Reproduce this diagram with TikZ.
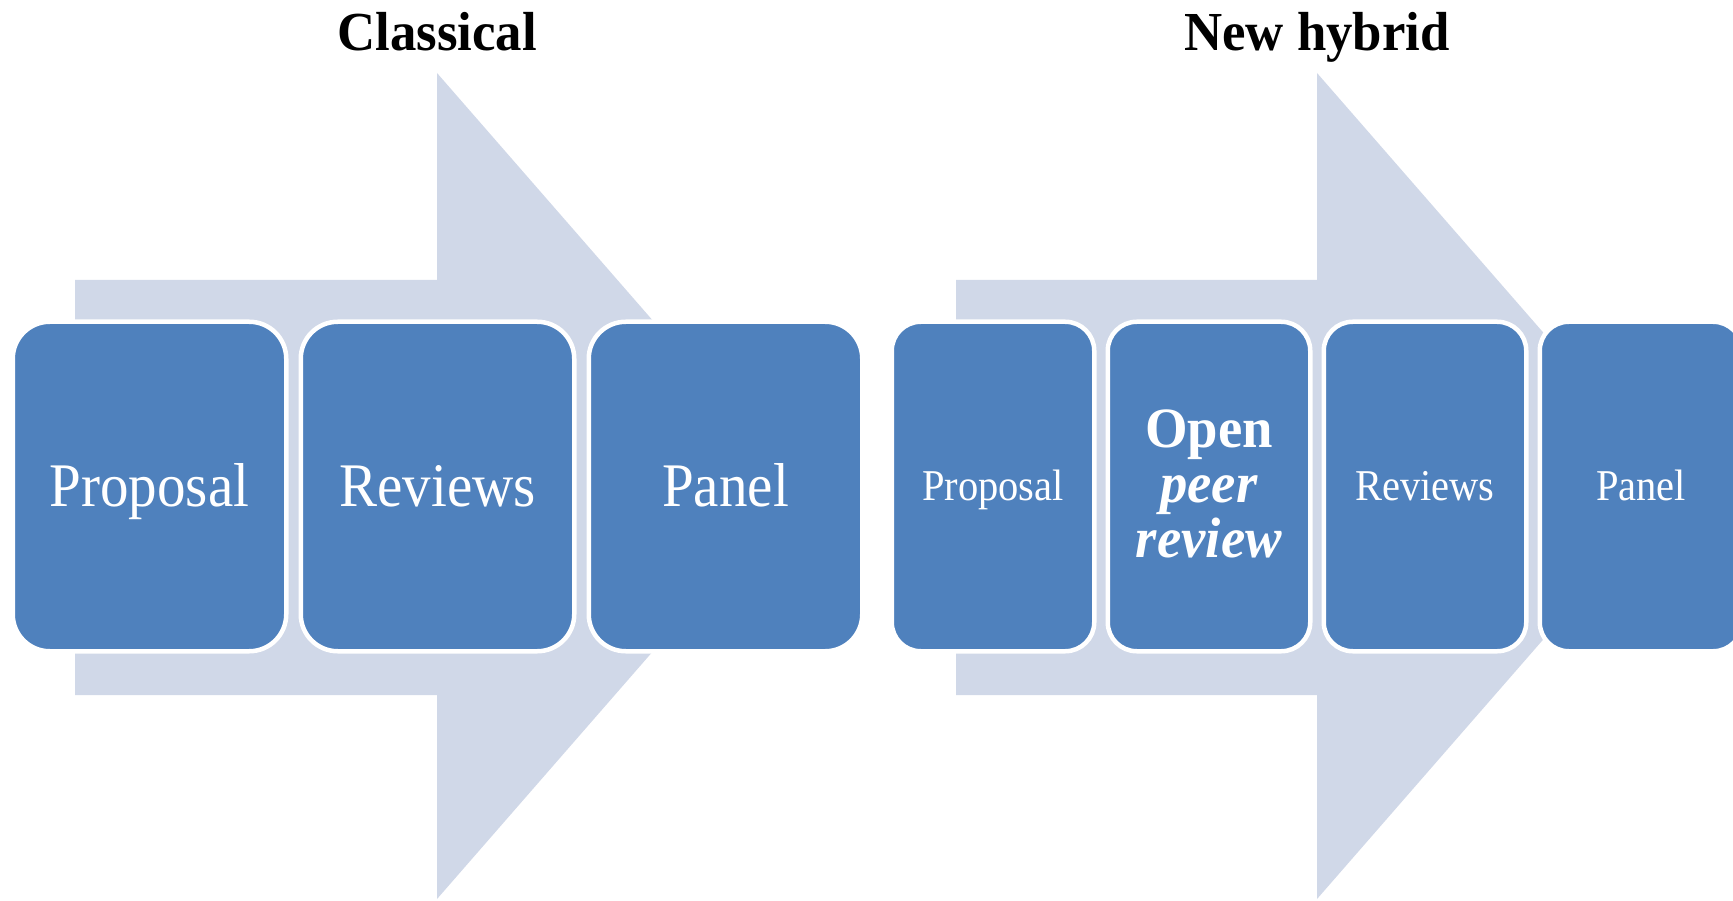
\documentclass[tikz,border=0pt]{standalone}
\usepackage{fontspec}
\setmainfont{Liberation Serif}
\newfontfamily\labelfont[FakeStretch=0.92]{Liberation Serif}
\newfontfamily\titlefont[FakeStretch=0.96]{Liberation Serif}
\newfontfamily\openfont[FakeStretch=0.96]{Liberation Serif}
\definecolor{stepblue}{HTML}{4F81BD}
\definecolor{flowgrey}{HTML}{D0D8E8}

\begin{document}
\begin{tikzpicture}[x=1pt,y=-1pt,
  flowarrow/.style={fill=flowgrey},
  card/.style={rectangle, fill=stepblue, draw=white, line width=4.5pt,
    text=white, inner sep=0pt},
  bigcard/.style={card, minimum width=273.5pt, minimum height=329.5pt,
    rounded corners=37pt},
  smallcard/.style={card, minimum width=202.5pt, minimum height=329.5pt,
    rounded corners=29pt},
  biglabel/.style={font=\labelfont\fontsize{62pt}{62pt}\selectfont,
    text height=45pt, text depth=6pt},
  smalllabel/.style={font=\labelfont\fontsize{44pt}{44pt}\selectfont,
    text height=32pt, text depth=3.6pt},
  openlabel/.style={align=center, inner sep=0pt, text=white,
    font=\openfont\bfseries\fontsize{57pt}{55pt}\selectfont},
  heading/.style={anchor=base, inner sep=0pt,
    font=\titlefont\bfseries\fontsize{55pt}{55pt}\selectfont}
]
% canvas
\clip (0,0) rectangle (1733,901);
\fill[white] (0,0) rectangle (1733,901);

% background process arrows
\fill[flowarrow] (75,280) -- (437,280) -- (437,73) -- (797,486) -- (437,899)
  -- (437,695) -- (75,695) -- cycle;
\fill[flowarrow] (956,280) -- (1317,280) -- (1317,73) -- (1677,486) -- (1317,899)
  -- (1317,695) -- (956,695) -- cycle;

% headings
\node[heading] (hclassical) at (437,51) {Classical};
\node[heading] (hhybrid) at (1317,51) {New hybrid};

% classical process steps
\node[bigcard, biglabel] (cproposal) at (149.5,486.5) {Proposal};
\node[bigcard, biglabel] (creviews) at (437.5,486.5) {Reviews};
\node[bigcard, biglabel] (cpanel) at (725.5,486.5) {Panel};

% hybrid process steps
\node[smallcard, smalllabel] (nproposal) at (993,486.5) {Proposal};
\node[smallcard] (nopen) at (1209,486.5) {};
\node[openlabel] (nopentext) at ([yshift=3pt]nopen.center)
  {Open\\\textit{peer}\\\textit{review}};
\node[smallcard, smalllabel] (nreviews) at (1425,486.5) {Reviews};
\node[smallcard, smalllabel] (npanel) at (1641,486.5) {Panel};
\end{tikzpicture}
\end{document}
